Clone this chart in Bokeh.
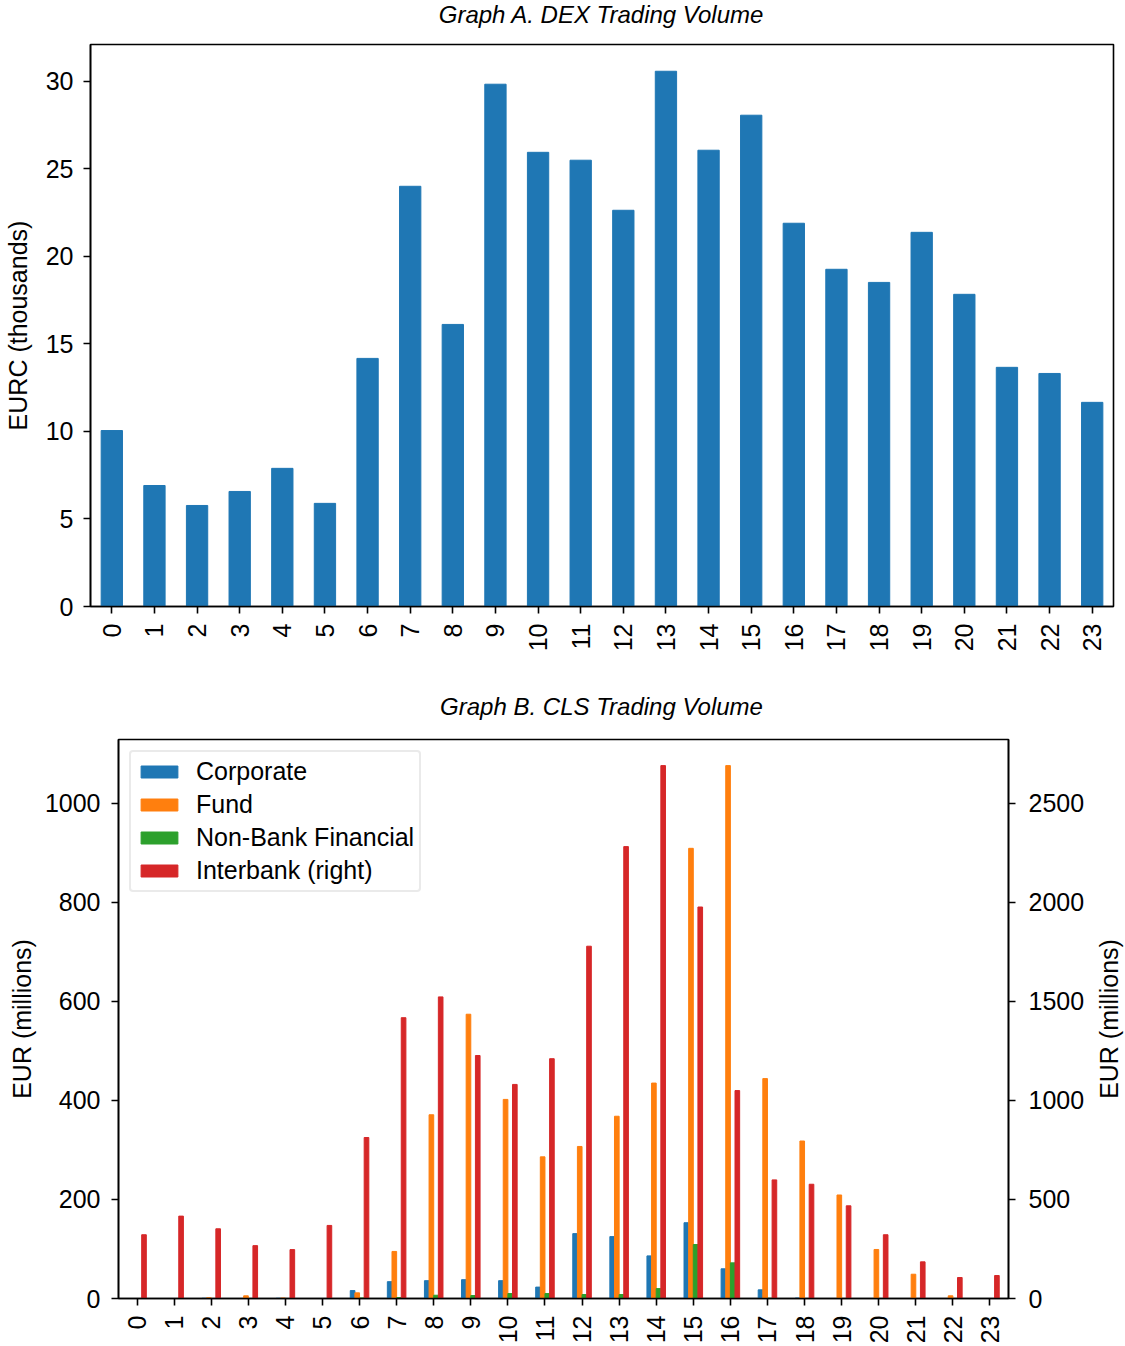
import math
from bokeh.plotting import figure
from bokeh.models import Range1d, LinearAxis, FixedTicker, Legend, LegendItem, ColumnDataSource
from bokeh.layouts import row
from bokeh.core.properties import value
from bokeh.embed import file_html
from bokeh.resources import INLINE

hours = list(range(24))
hour_labels = [str(h) for h in hours]

# Graph A: DEX volume (EURC thousands)
dex_volume = [10.05, 6.91, 5.77, 6.57, 7.89, 5.89, 14.17, 24.0, 16.11, 29.83, 25.94, 25.49,
              22.63, 30.57, 26.06, 28.06, 21.89, 19.26, 18.51, 21.37, 17.83, 13.66, 13.31, 11.66]

# Graph B: CLS volume (EUR millions)
corporate = [0, 0, 0.5, 0, 0.5, 0, 16, 34, 36, 38, 36, 23, 131, 125, 86, 153, 60, 17.5, 1, 0, 0, 0, 0, 0]
fund = [0, 0, 1.5, 5.4, 1, 0, 11.4, 95, 371, 574, 402, 286, 307, 368, 435, 909, 1076, 444, 318, 209, 99, 49, 5.4, 0]
nonbank = [0, 0, 0, 0, 0, 0, 1, 2, 6.6, 6, 10, 10, 8, 8, 20, 109, 72, 0.5, 0, 0, 0, 0, 0, 0]
interbank = [322, 416, 352, 267, 247, 369, 813, 1418, 1523, 1227, 1081, 1211, 1779, 2282, 2691,
             1977, 1050, 599, 577, 468, 322, 185, 106, 116]

title_a = "Graph A. DEX Trading Volume"
title_b = "Graph B. CLS Trading Volume"
right_label = "EUR (millions)"

FONT = "Liberation Sans"
FS = "25px"
BLUE, ORANGE, GREEN, RED = "#1f77b4", "#ff7f0e", "#2ca02c", "#d62728"


def style(p):
    p.outline_line_color = "black"
    p.outline_line_width = 1.6
    p.xgrid.visible = False
    p.ygrid.visible = False
    for ax in p.axis:
        ax.axis_line_color = "black"
        ax.axis_line_width = 1.6
        ax.major_tick_line_color = "black"
        ax.major_tick_line_width = 1.6
        ax.major_tick_out = 7
        ax.major_tick_in = 0
        ax.minor_tick_line_color = None
        ax.major_label_text_font = FONT
        ax.major_label_text_font_size = FS
        ax.major_label_text_color = "black"
        ax.axis_label_text_font = FONT
        ax.axis_label_text_font_size = FS
        ax.axis_label_text_font_style = "normal"
        ax.axis_label_text_color = "black"


def text_strip(width, height, text, x, y, angle=0.0, italic=False, size="24px", **borders):
    t = figure(width=width, height=height, output_backend="svg", toolbar_location=None,
               x_range=Range1d(0, 1), y_range=Range1d(0, 1),
               x_axis_location=None, y_axis_location=None, min_border=0, **borders)
    t.outline_line_color = None
    t.grid.visible = False
    for g in t.grid:
        g.grid_line_color = None
    t.text(x=[x], y=[y], text=[text], angle=angle, text_font=value(FONT),
           text_font_style="italic" if italic else "normal", text_font_size=size,
           text_align="center", text_baseline="middle", text_color="black")
    return t


# ---------- Title A (strip 0..30 px) ----------
ta = text_strip(1125, 30, title_a, 601 / 1125, 16 / 30, italic=True)

# ---------- Graph A (30..680 px) ----------
ya_max = max(dex_volume) * 1.05
pa = figure(width=1125, height=650, output_backend="svg", toolbar_location=None,
            x_range=Range1d(-0.5, 23.5), y_range=Range1d(0, ya_max),
            min_border_left=89, min_border_right=12, min_border_top=14, min_border_bottom=74)
pa.vbar(x=hours, top=dex_volume, width=0.5, color=BLUE)
style(pa)
pa.xaxis.ticker = FixedTicker(ticks=hours)
pa.xaxis.major_label_overrides = {h: l for h, l in zip(hours, hour_labels)}
pa.xaxis.major_label_orientation = math.pi / 2
pa.xaxis.major_label_standoff = 10
pa.yaxis.ticker = FixedTicker(ticks=[0, 5, 10, 15, 20, 25, 30])
pa.yaxis.axis_label = "EURC (thousands)"
pa.yaxis.major_label_standoff = 10
pa.yaxis.axis_label_standoff = 11

# ---------- Title B (strip 680..730 px) ----------
tb = text_strip(1125, 50, title_b, 601 / 1125, 24 / 50, italic=True)

# ---------- Graph B (730..1346 px) ----------
yb_max = max(fund) * 1.049
pb = figure(width=1095, height=616, output_backend="svg", toolbar_location=None,
            x_range=Range1d(-0.5, 23.5), y_range=Range1d(0, yb_max),
            min_border_left=118, min_border_right=87, min_border_top=9, min_border_bottom=46)
pb.extra_y_ranges = {"right": Range1d(0, max(interbank) * 1.049)}
pb.add_layout(LinearAxis(y_range_name="right"), "right")

w = 0.125
src = ColumnDataSource(dict(
    x0=[h - 1.5 * w for h in hours], x1=[h - 0.5 * w for h in hours],
    x2=[h + 0.5 * w for h in hours], x3=[h + 1.5 * w for h in hours],
    corporate=corporate, fund=fund, nonbank=nonbank, interbank=interbank))
r0 = pb.vbar(x="x0", top="corporate", width=w, color=BLUE, source=src)
r1 = pb.vbar(x="x1", top="fund", width=w, color=ORANGE, source=src)
r2 = pb.vbar(x="x2", top="nonbank", width=w, color=GREEN, source=src)
r3 = pb.vbar(x="x3", top="interbank", width=w, color=RED, source=src, y_range_name="right")
style(pb)
pb.xaxis.ticker = FixedTicker(ticks=hours)
pb.xaxis.major_label_overrides = {h: l for h, l in zip(hours, hour_labels)}
pb.xaxis.major_label_orientation = math.pi / 2
pb.xaxis.major_label_standoff = 10
pb.yaxis[0].ticker = FixedTicker(ticks=[0, 200, 400, 600, 800, 1000])
pb.yaxis[0].axis_label = "EUR (millions)"
pb.yaxis[0].axis_label_standoff = 6
pb.yaxis[1].ticker = FixedTicker(ticks=[0, 500, 1000, 1500, 2000, 2500])
pb.yaxis[0].major_label_standoff = 11
pb.yaxis[1].major_label_standoff = 13

legend = Legend(items=[
    LegendItem(label="Corporate", renderers=[r0]),
    LegendItem(label="Fund", renderers=[r1]),
    LegendItem(label="Non-Bank Financial", renderers=[r2]),
    LegendItem(label="Interbank (right)", renderers=[r3]),
], location="top_left")
legend.margin = 11
legend.padding = 5
legend.spacing = 4
legend.glyph_width = 46
legend.glyph_height = 15
legend.label_height = 25
legend.label_standoff = 14
legend.label_text_font = FONT
legend.label_text_font_size = FS
legend.label_text_color = "black"
legend.border_line_color = "#d5d5d5"
legend.border_line_width = 2
legend.background_fill_alpha = 0.8
if "border_radius" in legend.properties():
    legend.border_radius = 4
pb.add_layout(legend, "center")

# right-hand axis title, reading bottom-to-top, centred on the plot frame
tr = text_strip(30, 616, right_label, 0.45, 0.5, angle=math.pi / 2, size=FS,
                min_border_top=9, min_border_bottom=46)

open("out.html", "w").write(file_html([ta, pa, tb, row(pb, tr)], INLINE))
